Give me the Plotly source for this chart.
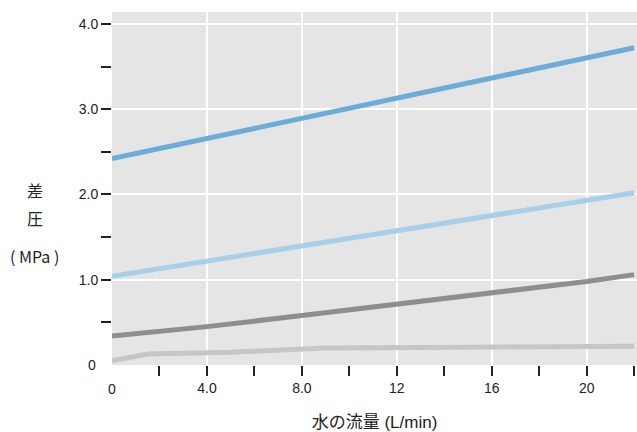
import plotly.graph_objects as go

# Data
flow_s1 = [0, 22]
dp_s1 = [2.42, 3.72]

flow_s2 = [0, 22]
dp_s2 = [1.04, 2.02]

flow_s3 = [0, 4, 8, 12, 16, 20, 22]
dp_s3 = [0.34, 0.45, 0.58, 0.71, 0.85, 0.98, 1.06]

flow_s4 = [0, 1.5, 5, 9, 22]
dp_s4 = [0.05, 0.13, 0.15, 0.20, 0.22]

x_tickvals = [4, 8, 12, 16, 20]
x_ticktext = ["4.0", "8.0", "12", "16", "20"]
x_minor = [2, 6, 10, 14, 18, 22]
y_tickvals = [1, 2, 3, 4]
y_ticktext = ["1.0", "2.0", "3.0", "4.0"]
y_minor = [0.5, 1.5, 2.5, 3.5]

colors = ["#6badd7", "#a8cfe9", "#8e8e8e", "#c6c6c6"]

FONT = "Liberation Sans, Arial, Noto Sans CJK JP, sans-serif"
CJK = "Noto Sans CJK JP, sans-serif"

fig = go.Figure()
for xs, ys, c in [(flow_s4, dp_s4, colors[3]), (flow_s3, dp_s3, colors[2]),
                  (flow_s2, dp_s2, colors[1]), (flow_s1, dp_s1, colors[0])]:
    fig.add_trace(go.Scatter(x=xs, y=ys, mode="lines",
                             line=dict(color=c, width=5), hoverinfo="skip",
                             showlegend=False))

fig.update_layout(
    width=637, height=432,
    margin=dict(l=112, r=0, t=12, b=67),
    paper_bgcolor="white", plot_bgcolor="#e5e5e5",
    font=dict(family=FONT, size=14, color="#222"),
    xaxis=dict(range=[0, 22.12], tickvals=x_tickvals, ticktext=x_ticktext,
               ticks="outside", ticklen=10, tickwidth=1.5, tickcolor="#222",
               showgrid=True, gridcolor="white", gridwidth=1.5, zeroline=False,
               showline=False,
               minor=dict(tickvals=x_minor, ticks="outside", ticklen=10,
                          tickwidth=1.5, tickcolor="#222", showgrid=False),
               title=dict(text="水の流量 (L/min)", font=dict(size=17), standoff=22)),
    yaxis=dict(range=[0, 4.14], tickvals=y_tickvals, ticktext=y_ticktext,
               ticks="outside", ticklen=10, tickwidth=1.5, tickcolor="#222",
               showgrid=True, gridcolor="white", gridwidth=1.5, zeroline=False,
               showline=False,
               minor=dict(tickvals=y_minor, ticks="outside", ticklen=10,
                          tickwidth=1.5, tickcolor="#222", showgrid=False)),
)

# "0" labels without tick marks
fig.add_annotation(x=0, y=0, xref="paper", yref="y", text="0", showarrow=False,
                   xanchor="right", yanchor="middle", xshift=-14,
                   font=dict(size=14, color="#222"))
fig.add_annotation(x=0, y=0, xref="x", yref="paper", text="0", showarrow=False,
                   xanchor="center", yanchor="top", yshift=-14,
                   font=dict(size=14, color="#222"))

# Vertical y-axis title
for txt, yp in [("差", 0.496), ("圧", 0.416), ("(&nbsp;MPa&nbsp;)", 0.309)]:
    fig.add_annotation(x=-0.147, y=yp, xref="paper", yref="paper", text=txt,
                       showarrow=False, xanchor="center", yanchor="middle",
                       font=dict(size=16, color="#222", family=CJK))

fig.write_html("out.html", config={"displayModeBar": False},
               post_script="document.body.style.margin='0';document.body.style.padding='0';")
